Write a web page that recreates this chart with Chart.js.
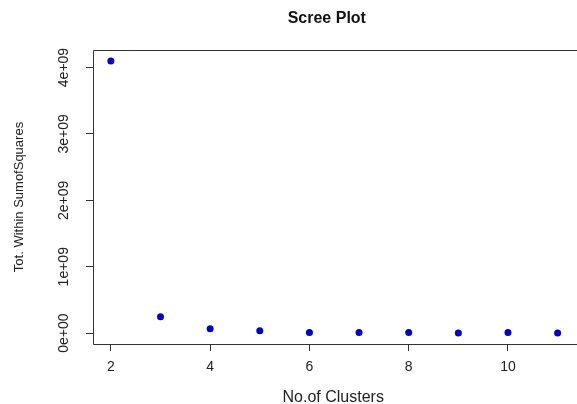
<!DOCTYPE html>
<html>
<head>
<meta charset="utf-8">
<script src="https://cdn.jsdelivr.net/npm/chart.js@4"></script>
<style>
  body { margin: 0; background: #fff; overflow: hidden; }
  canvas { display: block; }
</style>
</head>
<body>
<canvas id="screeChart" width="577" height="404"></canvas>
<script>
const clusters = [2, 3, 4, 5, 6, 7, 8, 9, 10, 11];
const withinSS = [4.10e9, 2.45e8, 6.5e7, 3.5e7, 9e6, 9e6, 9e6, 1e6, 9e6, 1e6];
const xTicks = [2, 4, 6, 8, 10];
const yTicks = [0, 1e9, 2e9, 3e9, 4e9];
const yTickLabels = ['0e+00', '1e+09', '2e+09', '3e+09', '4e+09'];

const FONT = "'Liberation Sans', Arial, sans-serif";
const INK = '#222';

// R style frame (its right side is off the picture), rotated y labels, main title
const rStyle = {
    id: 'rStyle',
    afterDraw(chart) {
        const c = chart.ctx;
        const a = chart.chartArea;
        const y = chart.scales.y;
        const x = chart.scales.x;
        const l = Math.round(a.left) + 0.5, t = Math.round(a.top) + 0.5;
        const b = Math.round(a.bottom) + 0.5;
        c.save();
        c.strokeStyle = '#333';
        c.lineWidth = 1;
        c.beginPath();
        c.moveTo(chart.width, t); c.lineTo(l, t); c.lineTo(l, b); c.lineTo(chart.width, b);
        c.stroke();

        c.fillStyle = INK;
        c.font = '14px ' + FONT;
        c.textAlign = 'center';
        c.textBaseline = 'middle';
        yTicks.forEach((v, i) => {
            c.save();
            c.translate(64, y.getPixelForValue(v));
            c.rotate(-Math.PI / 2);
            c.fillText(yTickLabels[i], 0, 0);
            c.restore();
        });

        c.font = 'bold 16px ' + FONT;
        c.fillStyle = '#111';
        c.fillText('Scree Plot', x.getPixelForValue(6.35), 19);
        c.restore();
    }
};

new Chart(document.getElementById('screeChart'), {
    type: 'scatter',
    data: {
        datasets: [{
            data: clusters.map((k, i) => ({ x: k, y: withinSS[i] })),
            backgroundColor: '#0000cc',
            borderWidth: 0,
            pointRadius: 3.5,
            pointHoverRadius: 3.5
        }]
    },
    options: {
        responsive: false,
        animation: false,
        events: [],
        layout: { padding: { top: 50, right: 0, left: 0, bottom: 0 } },
        plugins: { legend: { display: false }, tooltip: { enabled: false } },
        scales: {
            x: {
                type: 'linear',
                min: 1.64,
                max: 11.32,
                afterBuildTicks: s => { s.ticks = xTicks.map(v => ({ value: v })); },
                afterFit: s => { s.height = 60; },
                grid: { drawOnChartArea: false, tickLength: 7, color: '#333' },
                border: { display: false },
                ticks: { color: INK, font: { family: FONT, size: 14 }, padding: 8, maxRotation: 0 },
                title: { display: true, text: 'No.of Clusters', color: INK,
                         font: { family: FONT, size: 16 }, padding: { top: 0, bottom: -3 } }
            },
            y: {
                type: 'linear',
                min: -1.64e8,
                max: 4.264e9,
                afterBuildTicks: s => { s.ticks = yTicks.map(v => ({ value: v })); },
                afterFit: s => { s.width = 93; },
                grid: { drawOnChartArea: false, tickLength: 7, color: '#333' },
                border: { display: false },
                ticks: { color: 'rgba(0,0,0,0)', font: { family: FONT, size: 14 } },
                title: { display: true, text: 'Tot. Within SumofSquares', color: INK,
                         font: { family: FONT, size: 13 }, padding: { top: 12, bottom: 0 } }
            }
        }
    },
    plugins: [rStyle]
});
</script>
</body>
</html>
